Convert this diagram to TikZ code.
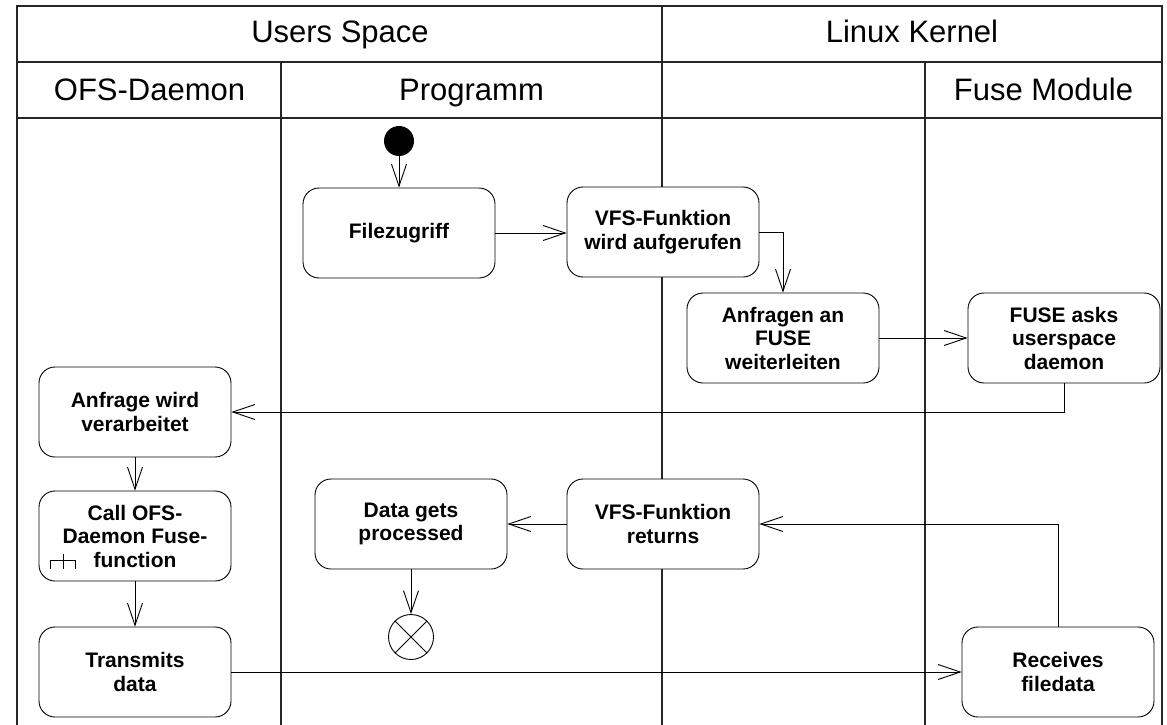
\documentclass[tikz,border=0pt]{standalone}
\usepackage{fontspec}
\setmainfont{Liberation Sans}
\usetikzlibrary{arrows.meta}
\tikzset{
  lane/.style={line width=1.4pt, draw=black!85},
  act/.style={draw, line width=0.9pt, rounded corners=16pt, minimum width=192pt, minimum height=90pt,
    align=center, inner sep=2pt, font=\fontsize{21}{23.5}\selectfont\bfseries},
  hdr/.style={font=\fontsize{31}{36}\selectfont, inner sep=0pt, anchor=base},
  flow/.style={line width=0.9pt, -{Straight Barb[length=22pt,width=15pt,line width=0.9pt]}},
}
\begin{document}
\begin{tikzpicture}[x=1pt,y=-1pt]
\useasboundingbox (0,0) rectangle (1167,725);
% swimlane frame
\draw[lane] (17,725) -- (17,6) -- (1162,6) -- (1162,725);
\draw[lane] (17,62) -- (1162,62);
\draw[lane] (17,118) -- (1162,118);
\draw[lane] (662,6) -- (662,725);
\draw[lane] (281,62) -- (281,725);
\draw[lane] (925,62) -- (925,725);
% headers
\node[hdr] (hus) at (340,43) {Users Space};
\node[hdr] (hlk) at (912,43) {Linux Kernel};
\node[hdr] (hofs) at (149.5,100) {OFS-Daemon};
\node[hdr] (hprg) at (471.5,100) {Programm};
\node[hdr] (hfm) at (1043.5,100) {Fuse Module};
% activity nodes
\node[circle, fill=black, minimum size=30pt, inner sep=0pt] (init) at (399,141) {};
\node[act] (fz) at (399,233) {Filezugriff};
\node[act,fill=white] (vfs) at (663,232) {VFS-Funktion\\wird aufgerufen};
\node[act] (anf) at (783,338) {Anfragen an\\FUSE\\weiterleiten};
\node[act] (fuse) at (1064,338) {FUSE asks\\userspace\\daemon};
\node[act] (afv) at (135,412) {Anfrage wird\\verarbeitet};
\node[act] (call) at (135,536) {Call OFS-\\Daemon Fuse-\\function};
\node[act] (trans) at (135,672) {Transmits\\data};
\node[act] (dgp) at (411,524) {Data gets\\processed};
\node[act,fill=white] (vret) at (663,524) {VFS-Funktion\\returns};
\node[act] (recv) at (1058,672) {Receives\\filedata};
\node[circle, draw, line width=0.9pt, minimum size=45pt, inner sep=0pt] (fin) at (411,637) {};
\draw[line width=0.9pt] (fin.north west) -- (fin.south east) (fin.north east) -- (fin.south west);
% rake symbol
\draw[line width=0.9pt] (50,569) -- (50,560) -- (75,560) -- (75,569) (63,554) -- (63,569);
% flows
\draw[flow] (init) -- (fz.north -| init);
\draw[flow] (fz.east) -- (vfs.west |- fz.east);
\draw[flow] (vfs.east) -| (anf.north);
\draw[flow] (anf) -- (fuse);
\draw[flow] (fuse.south) |- (afv.east);
\draw[flow] (afv) -- (call);
\draw[flow] (call) -- (trans);
\draw[flow] (trans.east) -- (recv.west);
\draw[flow] (recv.north) |- (vret.east);
\draw[flow] (vret) -- (dgp);
\draw[flow] (dgp) -- (fin);
\end{tikzpicture}
\end{document}
